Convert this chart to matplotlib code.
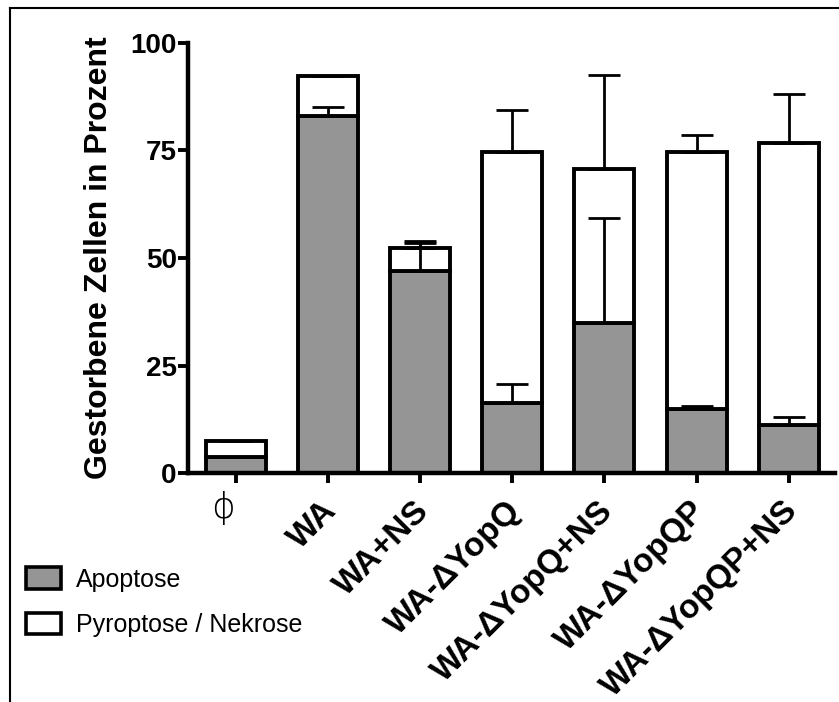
import matplotlib
matplotlib.use('Agg')
import matplotlib.pyplot as plt
import matplotlib.transforms as mtrans
from matplotlib.patches import Patch
from matplotlib.lines import Line2D

plt.rcParams['font.family'] = ['Liberation Sans', 'DejaVu Sans']

groups = ['ϕ', 'WA', 'WA+NS', 'WA-ΔYopQ', 'WA-ΔYopQ+NS', 'WA-ΔYopQP', 'WA-ΔYopQP+NS']
apoptose = [3.7, 83.0, 47.0, 16.3, 35.0, 14.8, 11.3]
apoptose_err = [0.1, 2.2, 6.5, 4.5, 24.2, 0.9, 1.8]
nekrose = [3.7, 9.2, 5.3, 58.4, 35.7, 59.9, 65.5]
gesamt_err = [0.1, 0.2, 1.6, 9.6, 21.8, 3.9, 11.2]

grey = '#959595'
lw = 2.8

fig = plt.figure(figsize=(8.39, 7.02), dpi=100)
ax = fig.add_axes([0.224, 0.326, 0.771, 0.613])

x = list(range(len(groups)))
ax.bar(x, apoptose, width=0.65, color=grey, edgecolor='black', linewidth=lw, zorder=2)
ax.bar(x, nekrose, width=0.65, bottom=apoptose, color='white', edgecolor='black',
       linewidth=lw, zorder=2)

gesamt = [a + n for a, n in zip(apoptose, nekrose)]
ax.errorbar(x, apoptose, yerr=[[0] * len(x), apoptose_err], fmt='none', ecolor='black',
            elinewidth=2, capsize=11.5, capthick=2, zorder=3)
ax.errorbar(x, gesamt, yerr=[[0] * len(x), gesamt_err], fmt='none', ecolor='black',
            elinewidth=2, capsize=11.5, capthick=2, zorder=3)

ax.set_xlim(-0.52, 6.5)
ax.set_ylim(0, 100)
ax.set_yticks([0, 25, 50, 75, 100])
ax.tick_params(axis='y', length=7, width=lw, labelsize=20, pad=1)
ax.tick_params(axis='x', length=7, width=lw, labelsize=24, pad=9)
for lab in ax.get_yticklabels():
    lab.set_fontweight('bold')

ax.set_xticks(x)
ax.set_xticklabels(groups, rotation=45, ha='right', rotation_mode='anchor',
                   fontweight='bold')
shift = mtrans.ScaledTranslation(-0.07, 0, fig.dpi_scale_trans)
for lab in ax.get_xticklabels()[1:]:
    lab.set_transform(lab.get_transform() + shift)
phi = ax.get_xticklabels()[0]
phi.set_rotation(0)
phi.set_ha('center')
phi.set_va('top')
phi.set_fontweight('light')
phi.set_family('DejaVu Sans')
phi.set_fontsize(26)
phi.set_transform(phi.get_transform() + mtrans.ScaledTranslation(-0.13, 0.04, fig.dpi_scale_trans))

for s in ['top', 'right']:
    ax.spines[s].set_visible(False)
for s in ['left', 'bottom']:
    ax.spines[s].set_linewidth(lw + 0.4)

ax.set_ylabel('Gestorbene Zellen in Prozent', fontsize=23, fontweight='bold', labelpad=12)

handles = [Patch(facecolor=grey, edgecolor='black', linewidth=2.6),
           Patch(facecolor='white', edgecolor='black', linewidth=2.6)]
fig.legend(handles, ['Apoptose', 'Pyroptose / Nekrose'], loc='upper left',
           bbox_to_anchor=(13 / 839, 1 - 555 / 702), frameon=False, fontsize=18,
           borderpad=0, handlelength=1.4, handleheight=0.92, labelspacing=0.85,
           handletextpad=0.6)

# outer frame (cropped on right and bottom)
fig.add_artist(Line2D([10 / 839, 10 / 839], [0, 1 - 8 / 702], color='black', linewidth=1.5))
fig.add_artist(Line2D([10 / 839, 1], [1 - 8 / 702, 1 - 8 / 702], color='black', linewidth=1.5))

fig.savefig('out.png', dpi=100)
